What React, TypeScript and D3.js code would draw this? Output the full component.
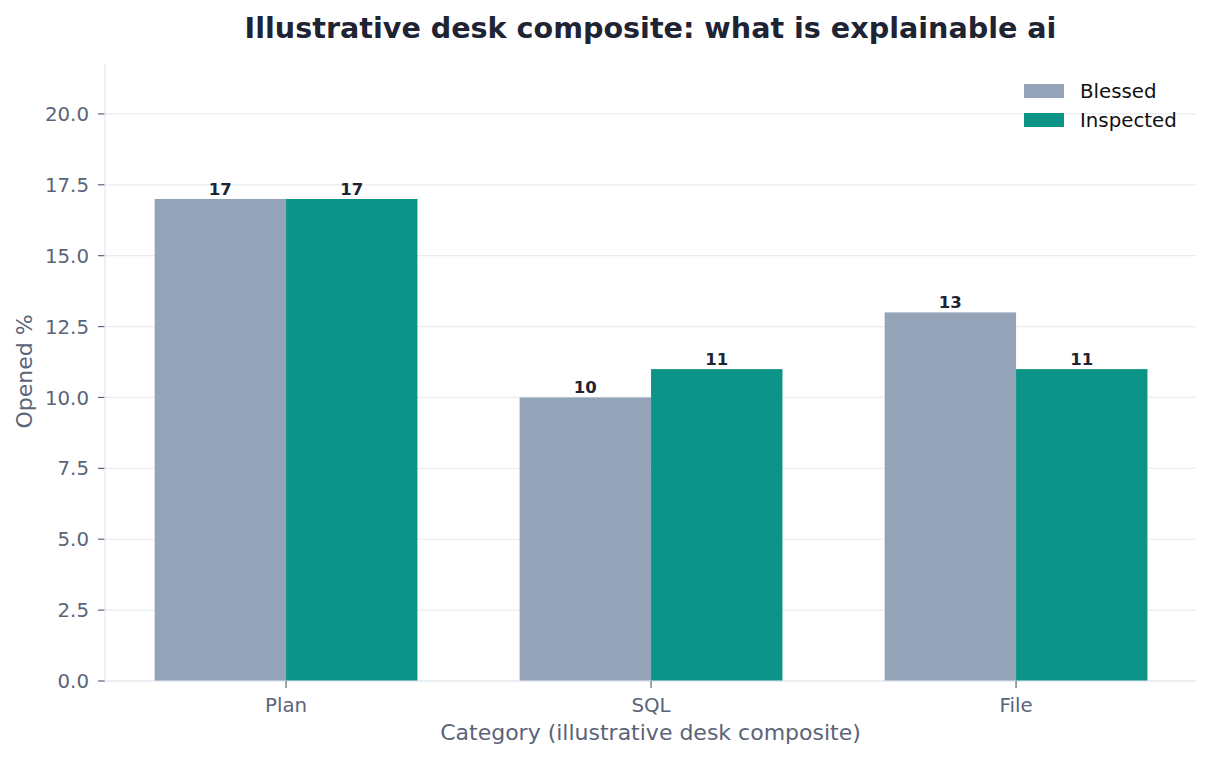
import React from "react";
import * as d3 from "d3";

const categories = ["Plan", "SQL", "File"];
const seriesNames = ["Blessed", "Inspected"];
const blessed = [17, 10, 13];
const inspected = [17, 11, 11];
const yTicks = [0, 2.5, 5, 7.5, 10, 12.5, 15, 17.5, 20];
const colors = ["#94A3B8", "#0D9488"];

const W = 1212, H = 760;
const left = 105, right = 1196, top = 64, bottom = 681;

export default function App() {
  const series = [blessed, inspected];
  const maxV = d3.max([...blessed, ...inspected]) as number;
  const y = d3.scaleLinear().domain([0, maxV * 1.28]).range([bottom, top]);
  const x = d3.scaleLinear().domain([-0.496, categories.length - 1 + 0.493]).range([left, right]);
  const groupW = 0.72;
  const barW = groupW / series.length;
  const tickColor = "#5B6478";
  const font = "'DejaVu Sans', sans-serif";
  return (
    <svg width={W} height={H} style={{ position: "absolute", left: 0, top: 0, background: "#fff" }} fontFamily={font}>
      <rect x={0} y={0} width={W} height={H} fill="#fff" />
      {yTicks.map((t) => (
        <g key={t}>
          <line x1={left} x2={right} y1={y(t)} y2={y(t)} stroke="#E9ECF0" strokeWidth={1.2} />
          <line x1={left - 7} x2={left} y1={y(t)} y2={y(t)} stroke={tickColor} strokeWidth={1.2} />
          <text x={left - 16} y={y(t)} dy="0.36em" textAnchor="end" fontSize={19.8} fill={tickColor}>
            {t.toFixed(1)}
          </text>
        </g>
      ))}
      {series.map((vals, si) =>
        vals.map((v, ci) => {
          const x0 = x(ci - groupW / 2 + si * barW);
          const x1 = x(ci - groupW / 2 + (si + 1) * barW);
          return (
            <g key={`${si}-${ci}`}>
              <rect x={x0} y={y(v)} width={x1 - x0} height={y(0) - y(v)} fill={colors[si]} />
              <text x={(x0 + x1) / 2} y={y(v) - 4} textAnchor="middle" fontSize={16.5} fontWeight="bold" fill="#1E2433">
                {v}
              </text>
            </g>
          );
        })
      )}
      <line x1={left} x2={left} y1={top} y2={bottom} stroke="#E2E8F0" strokeWidth={1.2} />
      <line x1={left} x2={right} y1={bottom} y2={bottom} stroke="#E2E8F0" strokeWidth={1.2} />
      {categories.map((c, i) => (
        <g key={c}>
          <line x1={x(i)} x2={x(i)} y1={bottom} y2={bottom + 7} stroke={tickColor} strokeWidth={1.2} />
          <text x={x(i)} y={712} textAnchor="middle" fontSize={19.8} fill={tickColor}>
            {c}
          </text>
        </g>
      ))}
      <text x={(left + right) / 2} y={740} textAnchor="middle" fontSize={22} fill={tickColor}>
        Category (illustrative desk composite)
      </text>
      <text transform={`translate(32,${(top + bottom) / 2 - 1}) rotate(-90)`} textAnchor="middle" fontSize={22} fill={tickColor}>
        Opened %
      </text>
      <text x={(left + right) / 2} y={38} textAnchor="middle" fontSize={28.6} fontWeight="bold" fill="#1E2433">
        Illustrative desk composite: what is explainable ai
      </text>
      {seriesNames.map((n, i) => (
        <g key={n}>
          <rect x={1024} y={84 + i * 29} width={40} height={14} fill={colors[i]} />
          <text x={1080} y={98 + i * 29} fontSize={19.8} fill="#111">
            {n}
          </text>
        </g>
      ))}
    </svg>
  );
}
